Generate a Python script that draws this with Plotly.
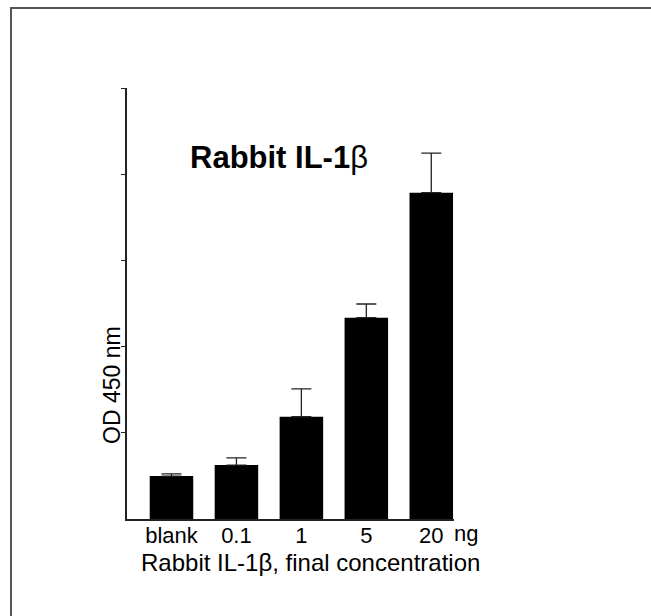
import plotly.graph_objects as go

categories = ["blank", "0.1", "1", "5", "20"]
od_values = [0.249, 0.313, 0.593, 1.168, 1.893]
od_errors = [0.013, 0.041, 0.162, 0.079, 0.229]
positions = list(range(len(categories)))

FONT = "Liberation Sans, Arial, sans-serif"

fig = go.Figure()
fig.add_trace(go.Bar(
    x=positions, y=od_values, width=0.67,
    marker=dict(color="black", line=dict(width=0)),
    error_y=dict(type="data", symmetric=False, array=od_errors,
                 arrayminus=[0] * len(od_errors),
                 color="#222222", thickness=1.3, width=10),
    showlegend=False,
))

L, R, T, B = 127, 197, 88, 97
W, H = 651, 616
pw, ph = W - L - R, H - T - B

def px_x(p):
    return (p - L) / pw

def px_y(p):
    return (H - B - p) / ph

fig.update_layout(
    width=W, height=H,
    margin=dict(l=L, r=R, t=T, b=B, autoexpand=False),
    paper_bgcolor="white", plot_bgcolor="white",
    font=dict(family=FONT, color="black"),
    xaxis=dict(range=[-0.685, 4.35], tickvals=positions, ticktext=categories,
               showline=True, linecolor="#222222", linewidth=1.5,
               ticks="", showgrid=False, zeroline=False,
               tickfont=dict(size=22, family=FONT), ticklabelstandoff=-4),
    yaxis=dict(range=[0, 2.5], tickvals=[0.5, 1.0, 1.5, 2.0, 2.5],
               showticklabels=False, ticks="outside", ticklen=4,
               tickcolor="#222222", tickwidth=1,
               showline=True, linecolor="#222222", linewidth=1.5,
               showgrid=False, zeroline=False),
    annotations=[
        dict(text="<b>Rabbit IL-1</b>β", x=px_x(279), y=px_y(157),
             xref="paper", yref="paper", showarrow=False,
             font=dict(size=31, family=FONT), xanchor="center", yanchor="middle"),
        dict(text="OD 450 nm", x=px_x(112), y=px_y(385),
             xref="paper", yref="paper", showarrow=False, textangle=-90,
             font=dict(size=23, family=FONT), xanchor="center", yanchor="middle"),
        dict(text="ng", x=px_x(466), y=px_y(533),
             xref="paper", yref="paper", showarrow=False,
             font=dict(size=22, family=FONT), xanchor="center", yanchor="middle"),
        dict(text="Rabbit IL-1β, final concentration", x=px_x(310), y=px_y(562),
             xref="paper", yref="paper", showarrow=False,
             font=dict(size=24, family=FONT), xanchor="center", yanchor="middle"),
    ],
    shapes=[
        dict(type="line", xref="paper", yref="paper",
             x0=px_x(11), x1=px_x(11), y0=px_y(620), y1=px_y(8),
             line=dict(color="#555555", width=2)),
        dict(type="line", xref="paper", yref="paper",
             x0=px_x(10), x1=px_x(655), y0=px_y(8), y1=px_y(8),
             line=dict(color="#555555", width=2)),
    ],
)

fig.write_html("out.html", config={"displayModeBar": False},
               post_script="document.body.style.margin='0';")
